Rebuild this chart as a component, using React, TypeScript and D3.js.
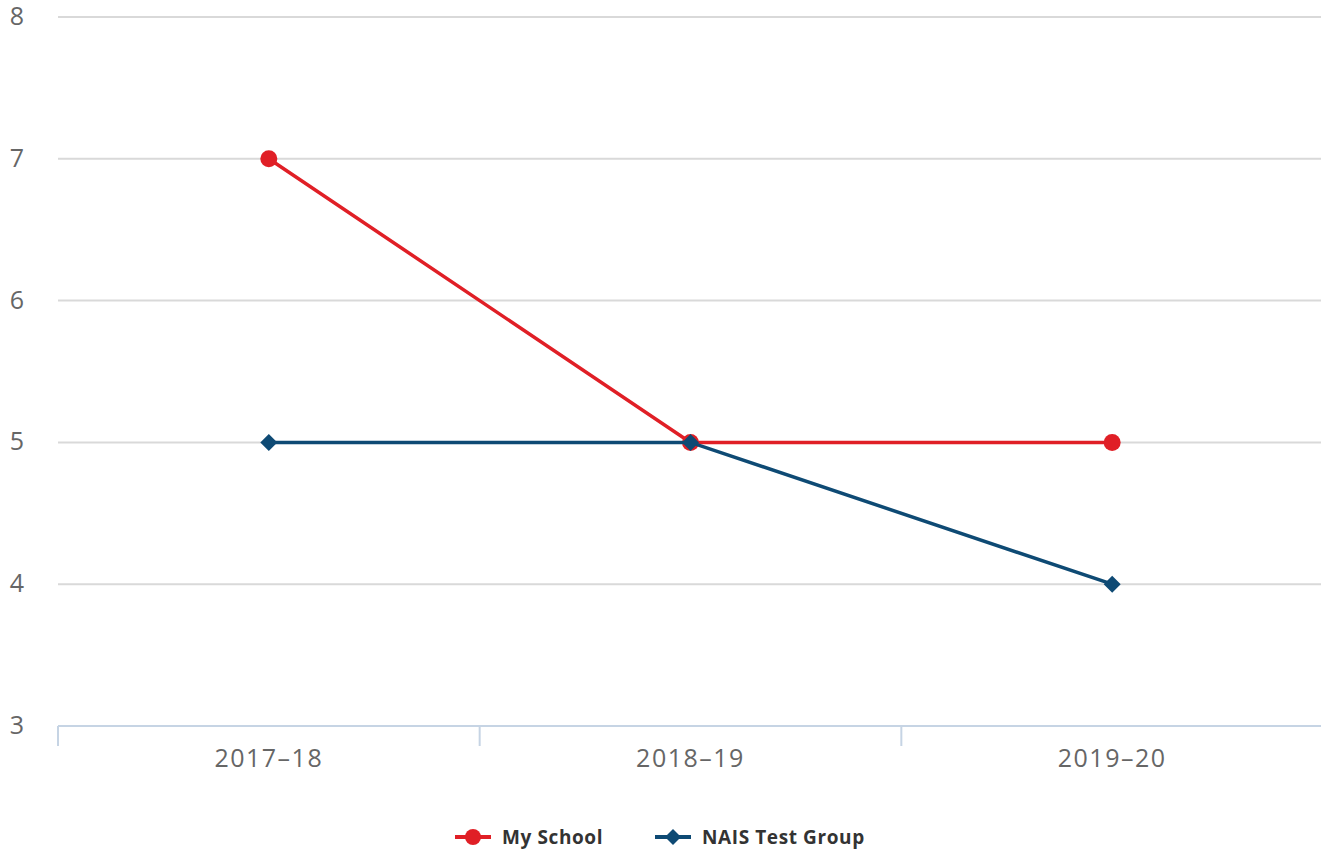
import React, { useEffect, useRef } from "react";
import * as d3 from "d3";

const categories = ["2017–18", "2018–19", "2019–20"];
const mySchool = [7, 5, 5];
const naisGroup = [5, 5, 4];
const yTicks = [3, 4, 5, 6, 7, 8];

const RED = "#e01f26";
const NAVY = "#0e4a74";

const App = () => {
  const ref = useRef<SVGSVGElement>(null);

  useEffect(() => {
    const svg = d3.select(ref.current);
    svg.selectAll("*").remove();

    const width = 1321;
    const height = 850;
    const margin = { top: 17, left: 58, bottom: 124, right: -2 };
    const font = "'Open Sans', 'DejaVu Sans', sans-serif";

    const x = d3
      .scaleBand()
      .domain(categories)
      .range([margin.left, width - margin.right]);
    const y = d3
      .scaleLinear()
      .domain([3, 8])
      .range([height - margin.bottom, margin.top]);

    // grid lines
    svg
      .append("g")
      .selectAll("line")
      .data(yTicks.filter((t) => t > 3))
      .join("line")
      .attr("x1", margin.left)
      .attr("x2", width)
      .attr("y1", (d) => y(d))
      .attr("y2", (d) => y(d))
      .attr("stroke", "#d9d9d9")
      .attr("stroke-width", 2);

    // y labels
    svg
      .append("g")
      .selectAll("text")
      .data(yTicks)
      .join("text")
      .attr("x", 24)
      .attr("y", (d) => y(d) + 8)
      .attr("text-anchor", "end")
      .attr("font-family", font)
      .attr("font-size", 25)
      .attr("fill", "#666666")
      .text((d) => d);

    // x axis
    const xAxis = svg.append("g");
    xAxis
      .append("line")
      .attr("x1", margin.left)
      .attr("x2", width)
      .attr("y1", y(3))
      .attr("y2", y(3))
      .attr("stroke", "#c6d4e4")
      .attr("stroke-width", 2);
    const tickPos = categories.map((c) => x(c)!);
    tickPos.push(x(categories[categories.length - 1])! + x.bandwidth());
    xAxis
      .selectAll(".tick")
      .data(tickPos)
      .join("line")
      .attr("x1", (d) => d)
      .attr("x2", (d) => d)
      .attr("y1", y(3))
      .attr("y2", y(3) + 20)
      .attr("stroke", "#c6d4e4")
      .attr("stroke-width", 2);
    xAxis
      .selectAll("text")
      .data(categories)
      .join("text")
      .attr("x", (d) => x(d)! + x.bandwidth() / 2)
      .attr("y", 767)
      .attr("text-anchor", "middle")
      .attr("font-family", font)
      .attr("font-size", 25)
      .attr("letter-spacing", 1.5)
      .attr("fill", "#666666")
      .text((d) => d);

    const cx = (i: number) => x(categories[i])! + x.bandwidth() / 2;
    const line = d3
      .line<number>()
      .x((d, i) => cx(i))
      .y((d) => y(d));

    const diamond = (px: number, py: number, r: number) =>
      `M${px},${py - r}L${px + r},${py}L${px},${py + r}L${px - r},${py}Z`;

    // My School
    svg
      .append("path")
      .datum(mySchool)
      .attr("fill", "none")
      .attr("stroke", RED)
      .attr("stroke-width", 3.5)
      .attr("d", line);
    svg
      .append("g")
      .selectAll("circle")
      .data(mySchool)
      .join("circle")
      .attr("cx", (d, i) => cx(i))
      .attr("cy", (d) => y(d))
      .attr("r", 8.5)
      .attr("fill", RED);

    // NAIS
    svg
      .append("path")
      .datum(naisGroup)
      .attr("fill", "none")
      .attr("stroke", NAVY)
      .attr("stroke-width", 3.5)
      .attr("d", line);
    svg
      .append("g")
      .selectAll("path")
      .data(naisGroup)
      .join("path")
      .attr("d", (d, i) => diamond(cx(i), y(d), 8.5))
      .attr("fill", NAVY);

    // legend
    const legend = [
      { name: "My School", color: RED, shape: "circle", x: 455 },
      { name: "NAIS Test Group", color: NAVY, shape: "diamond", x: 655 },
    ];
    const lg = svg.append("g");
    legend.forEach((l) => {
      const ly = 837;
      lg.append("line")
        .attr("x1", l.x)
        .attr("x2", l.x + 36)
        .attr("y1", ly)
        .attr("y2", ly)
        .attr("stroke", l.color)
        .attr("stroke-width", 4);
      if (l.shape === "circle") {
        lg.append("circle")
          .attr("cx", l.x + 18)
          .attr("cy", ly)
          .attr("r", 8)
          .attr("fill", l.color);
      } else {
        lg.append("path")
          .attr("d", diamond(l.x + 18, ly, 8))
          .attr("fill", l.color);
      }
      lg.append("text")
        .attr("x", l.x + 47)
        .attr("y", ly + 7)
        .attr("font-family", font)
        .attr("font-size", 19)
        .attr("letter-spacing", 0.6)
        .attr("font-weight", "bold")
        .attr("fill", "#333333")
        .text(l.name);
    });
  }, []);

  return (
    <svg
      ref={ref}
      width={1321}
      height={850}
      style={{ position: "absolute", left: 0, top: 0, background: "#fff" }}
    />
  );
};

export default App;
